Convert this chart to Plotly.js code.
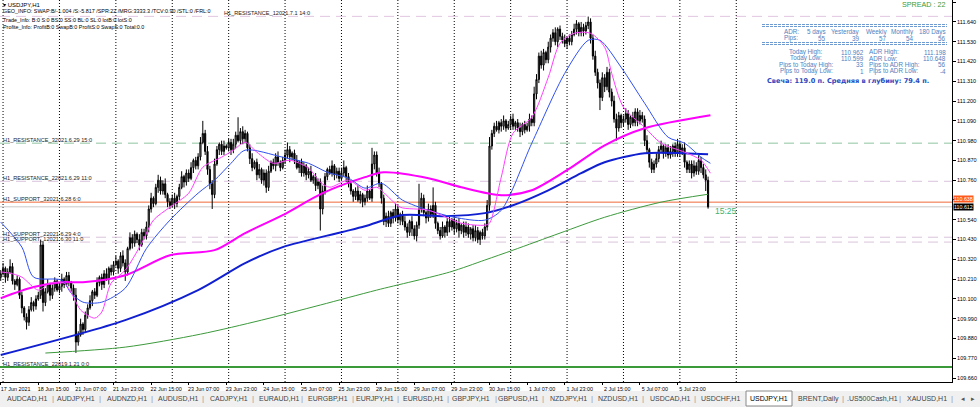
<!DOCTYPE html>
<html><head><meta charset="utf-8">
<script src="https://cdn.plot.ly/plotly-3.0.1.min.js"></script>
<style>html,body{margin:0;padding:0;background:#fff;}#chart{width:980px;height:407px;}</style>
</head><body><div id="chart"></div>
<script>
// ---------------- DATA ----------------
const symbolTitle = "USDJPY,H1";
const firstOpen = 110.22;
const closes = [
110.24,110.27,110.22,110.25,110.28,110.20,110.18,110.21,110.12,110.05,
110.00,109.97,110.04,110.08,110.06,110.10,110.12,110.40,110.08,110.14,
110.18,110.12,110.16,110.20,110.15,110.17,110.21,110.18,110.23,110.19,
110.16,110.12,109.86,109.90,109.96,109.93,110.01,110.05,110.09,110.14,
110.12,110.19,110.22,110.18,110.24,110.21,110.27,110.25,110.29,110.31,
110.27,110.34,110.30,110.25,110.38,110.44,110.41,110.46,110.43,110.40,
110.47,110.45,110.50,110.60,110.66,110.63,110.72,110.76,110.70,110.74,
110.68,110.64,110.62,110.66,110.63,110.67,110.72,110.78,110.75,110.80,
110.77,110.83,110.87,110.84,110.89,110.97,111.02,110.92,110.82,110.74,
110.68,110.85,110.93,110.96,110.92,110.95,110.94,110.97,110.93,110.96,
111.01,110.98,111.03,110.99,111.02,110.94,110.88,110.83,110.86,110.79,
110.82,110.76,110.80,110.72,110.81,110.86,110.84,110.89,110.86,110.83,
110.87,110.90,110.93,110.89,110.91,110.87,110.83,110.86,110.80,110.84,
110.79,110.81,110.76,110.78,110.73,110.75,110.60,110.70,110.78,110.82,
110.80,110.84,110.79,110.81,110.77,110.80,110.83,110.78,110.74,110.70,
110.67,110.70,110.65,110.68,110.64,110.66,110.70,110.66,110.85,110.90,
110.80,110.74,110.66,110.53,110.56,110.52,110.58,110.55,110.60,110.54,
110.57,110.53,110.50,110.47,110.53,110.49,110.45,110.51,110.60,110.66,
110.58,110.55,110.60,110.57,110.62,110.52,110.48,110.45,110.50,110.47,
110.53,110.50,110.54,110.49,110.52,110.48,110.51,110.47,110.50,110.46,
110.49,110.44,110.48,110.43,110.47,110.45,110.50,110.62,110.95,111.02,
111.06,111.04,111.08,111.06,111.09,111.05,111.07,111.10,111.06,111.08,
111.05,111.03,111.07,111.04,111.06,111.10,111.08,111.24,111.32,111.45,
111.40,111.47,111.43,111.50,111.55,111.58,111.53,111.60,111.56,111.54,
111.52,111.55,111.53,111.57,111.60,111.63,111.58,111.61,111.59,111.62,
111.64,111.55,111.45,111.36,111.30,111.22,111.33,111.28,111.36,111.25,
111.20,111.10,111.05,111.12,111.08,111.10,111.13,111.07,111.11,111.08,
111.14,111.09,111.12,111.10,110.98,110.93,110.86,110.82,110.85,110.88,
110.93,110.95,110.91,110.94,110.90,110.92,110.95,110.91,110.96,110.92,
110.94,110.86,110.82,110.85,110.80,110.84,110.81,110.87,110.83,110.79,
110.76,110.612];
// upper / lower wick lengths in pips (0.01)
const upWick = [
2,3,1,2,4,2,1,2,1,2, 1,2,2,3,1,2,2,3,2,2, 3,1,2,2,1,2,3,1,2,2, 1,2,4,2,3,1,2,2,3,1,
2,3,1,2,2,3,1,2,2,3, 1,2,3,2,1,3,2,2,1,3, 2,2,3,2,3,1,2,3,2,2, 3,1,2,2,3,1,2,3,1,2,
2,3,1,2,2,3,7,2,3,2, 2,3,2,1,2,3,1,2,2,3, 2,10,2,3,2,1,2,3,1,2, 3,1,2,2,3,1,2,2,3,1,
2,3,4,2,1,2,3,1,2,2, 1,2,3,1,2,2,2,3,2,1, 2,3,1,2,2,3,4,1,2,2, 1,2,3,2,1,2,3,1,9,2,
2,3,1,2,2,3,1,2,3,2, 1,2,3,2,1,3,2,2,14,3, 2,1,3,2,10,2,1,2,3,1, 2,3,1,2,2,3,1,2,3,2,
1,2,3,2,1,2,2,3,5,2, 2,3,1,2,3,1,2,2,3,1, 2,3,1,2,2,3,2,4,3,2, 3,2,1,3,2,2,3,1,2,2,
3,1,2,2,3,2,1,3,2,2, 3,2,2,3,2,2,3,2,3,2, 2,3,3,2,1,2,3,2,1,3, 2,2,3,2,2,3,1,2,2,3,
2,3,1,2,2,3,1,2,3,2, 2,3,1,2,2,3,2,3,2,2, 3,2];
const dnWick = [
2,1,3,2,1,2,3,1,2,3, 2,4,2,1,3,2,1,2,5,2, 1,3,2,2,1,2,3,2,1,2, 2,3,6,2,1,3,2,2,1,3,
2,1,2,3,2,1,3,2,2,1, 3,2,2,5,2,1,3,2,2,3, 1,2,2,3,2,2,1,3,2,2, 2,3,2,1,3,2,2,1,3,2,
2,1,3,2,2,2,1,2,3,3, 8,2,1,3,2,2,1,2,3,2, 2,1,2,3,2,2,3,2,1,3, 2,2,3,3,2,1,2,3,2,2,
1,2,2,3,2,2,1,3,2,2, 3,2,1,2,3,2,12,3,2,2, 1,2,3,2,2,1,2,3,2,2, 3,2,1,2,3,2,2,1,2,3,
2,2,3,2,3,2,2,3,2,2, 3,2,2,3,2,4,2,3,2,2, 2,3,2,2,2,3,2,2,1,3, 2,3,2,3,2,4,2,3,2,2,
3,2,2,2,3,2,2,2,3,2, 2,1,2,3,2,2,1,3,2,2, 2,3,2,2,1,3,2,2,3,2, 2,3,2,2,3,2,2,3,2,2,
2,3,2,2,1,3,2,2,3,2, 2,3,2,2,3,7,2,3,2,3, 3,2,7,2,3,2,2,3,2,2, 2,3,2,2,3,2,3,2,2,2,
2,2,3,2,2,2,3,2,2,3, 2,3,2,2,3,2,2,2,3,2, 6,1];

// moving averages (bar index, price)
const maFastIdx = [0,4,9,16,21,27,31,34,40,43,47,53,60,65,72,80,86,94,99,104,109,116,123,131,136,140,148,155,160,165,170,182,196,206,208,213,218,226,233,238,244,251,257,260,265,274,281,291,298,302];
const maFastVal = [110.25,110.243,110.221,110.149,110.188,110.188,110.11,110.038,109.993,110.027,110.188,110.26,110.41,110.538,110.61,110.688,110.832,110.888,110.927,110.971,110.916,110.854,110.871,110.827,110.749,110.721,110.76,110.704,110.721,110.666,110.61,110.593,110.521,110.51,110.521,110.777,111.021,111.11,111.332,111.521,111.577,111.577,111.499,111.354,111.166,111.054,110.966,110.916,110.871,110.799];
const maMidIdx = [0,9,14,26,30,35,43,53,62,72,84,91,98,104,120,131,139,148,155,162,171,182,193,206,213,226,240,250,255,264,274,284,291,298,302];
const maMidVal = [110.527,110.388,110.221,110.204,110.132,110.082,110.082,110.16,110.38,110.538,110.688,110.76,110.854,110.927,110.888,110.854,110.804,110.771,110.716,110.743,110.649,110.593,110.554,110.538,110.593,110.966,111.354,111.538,111.538,111.388,111.188,110.999,110.966,110.888,110.854];
const maSlowIdx = [0,14,26,35,53,72,91,104,120,137,155,163,182,196,213,226,241,257,274,302];
const maSlowVal = [110.104,110.166,110.193,110.193,110.232,110.343,110.371,110.466,110.566,110.688,110.777,110.804,110.771,110.721,110.677,110.704,110.816,110.954,111.049,111.121];
const maTrendIdx = [0,53,84,104,120,145,155,171,189,206,218,233,247,257,274,291,301];
const maTrendVal = [109.788,109.982,110.149,110.299,110.388,110.471,110.504,110.566,110.56,110.577,110.621,110.704,110.799,110.86,110.91,110.91,110.904];
const maLongIdx = [19,53,85,111,136,160,191,206,218,238,257,281,301];
const maLongVal = [109.799,109.832,109.904,109.982,110.066,110.149,110.249,110.316,110.371,110.466,110.554,110.638,110.682];

// x-axis ticks (bar index -> label), day starts
const xTickIdx = [0,16,32,48,64,80,96,112,128,144,160,176,192,208,224,240,256,272,288];
const xTickText = ["17 Jun 2021","18 Jun 15:00","21 Jun 07:00","21 Jun 23:00","22 Jun 15:00","23 Jun 07:00","23 Jun 23:00","24 Jun 15:00","25 Jun 07:00","25 Jun 23:00","28 Jun 15:00","29 Jun 07:00","29 Jun 23:00","30 Jun 15:00","1 Jul 07:00","1 Jul 23:00","2 Jul 15:00","5 Jul 07:00","5 Jul 23:00"];
const dayStartIdx = [1,25,49,73,97,121,145,169,193,217,241,265,289,313];
const yTicks = [109.66,109.77,109.88,109.99,110.10,110.21,110.32,110.43,110.54,110.65,110.76,110.87,110.98,111.09,111.20,111.31,111.42,111.53,111.64,111.75];

// levels
const levelNames = ["H1_RESISTANCE_12021.7.1 14:0","H1_RESISTANCE_32021.6.29 15:0","H1_RESISTANCE_22021.6.29 11:0","H1_SUPPORT_32021.6.28 6:0","H1_SUPPORT_22021.6.29 4:0","H1_SUPPORT_12021.6.30 11:0","H1_RESISTANCE_22019.1.21 0:0"];
const levelPrices = [111.671,110.966,110.754,110.638,110.443,110.416,109.721];
const bidPrice = 110.612;
const timeLeft = "15:25";

// info texts
const infoLines = ["GEO_INFO: SWAP:B/-1.004 /S:-5.817 /SPR:22 /MRG:3333.3 /TCV:0.90 /STL:0 /FRL:0","Trade_Info: B:0 S:0 BS:0 SS:0 BL:0 SL:0 lotB:0 lotS:0","Profite_Info: ProfitB:0 SwapB:0 ProfitS:0 SwapS:0 Total:0.0"];
const spreadText = "SPREAD : 22";
const adrHeaders = ["5 days","Yesterday","Weekly","Monthly","180 Days"];
const adrPips = [55,39,57,54,56];
const todayLabels = ["Today High:","Today Low:","Pips to Today High:","Pips to Today Low:"];
const todayValues = ["110.962","110.599","33","1"];
const adrLabels = ["ADR High:","ADR Low:","Pips to ADR High:","Pips to ADR Low:"];
const adrValues = ["111.198","110.648","56","-4"];
const candleText = "Свеча: 119.0 п. Средняя в глубину: 79.4 п.";
const tabNames = ["AUDCAD,H1","AUDJPY,H1","AUDNZD,H1","AUDUSD,H1","CADJPY,H1","EURAUD,H1","EURGBP,H1","EURJPY,H1","EURUSD,H1","GBPJPY,H1","GBPUSD,H1","NZDJPY,H1","NZDUSD,H1","USDCAD,H1","USDCHF,H1","USDJPY,H1","BRENT,Daily",".US500Cash,H1","XAUUSD,H1"];
const activeTab = "USDJPY,H1";

// ---------------- LAYOUT CONSTANTS ----------------
const FONT = "Liberation Sans, Arial, sans-serif";
const PW = 952, PH = 382;
const X = v => v / PW, Y = v => (PH - v) / PH;
const tabCenters = [27,76,127,178,229,279,328,375,423,471,518,568,618,670,720,769,818,872,927];
const tabSeps = [53,100,152,203,253,302,353,398,448,496,543,592,643,695,843,900,952];
const levelLabelX = [222,1,1,1,1,1,1];
const levelStyles = [
  {color:'#e3c6e3', dash:'10px,6px', width:1},
  {color:'#8fc4a0', dash:'10px,6px', width:1},
  {color:'#d9c4dc', dash:'10px,6px', width:1},
  {color:'#f26b3a', dash:'solid', width:1},
  {color:'#d9c4dc', dash:'10px,6px', width:1},
  {color:'#d9c4dc', dash:'10px,6px', width:1},
  {color:'#3a9a3a', dash:'solid', width:2}
];

// ---------------- BUILD ----------------
const idx=[], opens=[], highs=[], lows=[];
for (let i=0;i<closes.length;i++){
  const o = i===0 ? firstOpen : closes[i-1];
  const c = closes[i];
  idx.push(i); opens.push(o);
  highs.push(+(Math.max(o,c)+upWick[i]/100).toFixed(3));
  lows.push(+(Math.min(o,c)-dnWick[i]/100).toFixed(3));
}

const traces = [];
function maTrace(xs, ys, color, width){
  return {type:'scatter', mode:'lines', x:xs, y:ys, line:{color, width, shape:'spline', smoothing:0.8}, hoverinfo:'skip', showlegend:false};
}
traces.push(maTrace(maLongIdx, maLongVal, '#3c9a3c', 1));
traces.push(maTrace(maTrendIdx, maTrendVal, '#1020d0', 2));
traces.push(maTrace(maSlowIdx, maSlowVal, '#ff00ff', 2));
traces.push({type:'candlestick', x:idx, open:opens, high:highs, low:lows, close:closes,
  increasing:{line:{color:'#000', width:1}, fillcolor:'#a0a0a0'},
  decreasing:{line:{color:'#000', width:1}, fillcolor:'#000'},
  whiskerwidth:0, hoverinfo:'skip', showlegend:false});
traces.push(maTrace(maMidIdx, maMidVal, '#3050f0', 1));
traces.push(maTrace(maFastIdx, maFastVal, '#ff40ff', 1));

const shapes = [];
dayStartIdx.forEach(d => shapes.push({type:'line', xref:'x', yref:'paper', x0:d, x1:d, y0:0, y1:1, line:{color:'#000', width:1, dash:'1px,2px'}, layer:'below'}));
levelPrices.forEach((p,k) => shapes.push({type:'line', xref:'paper', yref:'y', x0:0, x1:1, y0:p, y1:p, line:levelStyles[k], layer:'below'}));
shapes.push({type:'line', xref:'paper', yref:'y', x0:0, x1:1, y0:bidPrice, y1:bidPrice, line:{color:'#c8c8c8', width:1}, layer:'below'});
// panel separators
[24.5,26.5,42.5,44.5].forEach(v => shapes.push({type:'line', xref:'paper', yref:'paper', x0:X(762), x1:X(947), y0:Y(v), y1:Y(v), line:{color:'#6f9ad0', width:1, dash:'3px,1px'}}));
// tab strip
shapes.push({type:'rect', xref:'paper', yref:'paper', x0:0, x1:980/PW, y0:Y(391), y1:Y(408), fillcolor:'#f0f0f0', line:{width:0}});
const at = tabNames.indexOf(activeTab);
shapes.push({type:'rect', xref:'paper', yref:'paper', x0:X(tabCenters[at]-23), x1:X(tabCenters[at]+23), y0:Y(391), y1:Y(406), fillcolor:'#ffffff', line:{color:'#8a8a8a', width:1}});

const ann = [];
function T(x, y, text, o){
  o = o || {};
  return {xref:'paper', yref:'paper', x:X(x), y:Y(y), text, showarrow:false,
    xanchor:o.xa||'left', yanchor:'middle',
    font:{family:o.family||FONT, size:o.size||6, color:o.color||'#000', weight:o.weight||'normal'},
    bgcolor:o.bg, borderpad:o.pad||0};
}
ann.push(T(2,5,'▾ '+symbolTitle,{size:6}));
infoLines.forEach((s,k)=>ann.push(T(2,[11.5,20,27][k],s,{size:5.4})));
levelPrices.forEach((p,k)=>ann.push({xref:'paper', yref:'y', x:X(levelLabelX[k]), y:p, yshift:3, text:levelNames[k], showarrow:false, xanchor:'left', yanchor:'middle', font:{family:FONT, size:5.6, color:'#222'}}));
ann.push(T(947,5,spreadText,{xa:'right', size:7.2, color:'#3a9a3a'}));
const blue = '#4f7fc0';
const colRight = [827,861,888,915,947];
ann.push(T(783,32,'ADR:',{color:blue, size:6.3}));
ann.push(T(783,38,'Pips:',{color:blue, size:6.3}));
adrHeaders.forEach((h,k)=>ann.push(T(colRight[k],32,h,{xa:'right', color:blue, size:6.3})));
adrPips.forEach((v,k)=>ann.push(T(colRight[k],38,String(v),{xa:'right', color:blue, size:6.3})));
const rowY = [52,58,64.5,71];
todayLabels.forEach((s,k)=>ann.push(T(806,rowY[k],s,{xa:'center', color:blue, size:6.3})));
todayValues.forEach((s,k)=>ann.push(T(865,rowY[k],s,{xa:'right', color:blue, size:6.3})));
adrLabels.forEach((s,k)=>ann.push(T(868,rowY[k],s,{color:blue, size:6.3})));
adrValues.forEach((s,k)=>ann.push(T(947,rowY[k],s,{xa:'right', color:blue, size:6.3})));
ann.push(T(848,81,candleText,{xa:'center', color:'#2a48c0', size:6.6, family:'DejaVu Sans, sans-serif', weight:'bold'}));
ann.push({xref:'x', yref:'y', x:303, y:bidPrice-0.025, text:timeLeft, showarrow:false, xanchor:'left', yanchor:'middle', font:{family:FONT, size:8.5, color:'#3cb371'}});
// price labels on axis (they cover the 110.650 tick label, as in the terminal)
ann.push({xref:'paper', yref:'y', x:1.001, y:bidPrice+0.045, text:levelPrices[3].toFixed(3), showarrow:false, xanchor:'left', yanchor:'middle', bgcolor:'#ff5a1e', font:{family:FONT, size:5.3, color:'#fff'}, borderpad:0});
ann.push({xref:'paper', yref:'y', x:1.001, y:bidPrice, text:bidPrice.toFixed(3), showarrow:false, xanchor:'left', yanchor:'middle', bgcolor:'#000', font:{family:FONT, size:5.3, color:'#fff'}, borderpad:0});
// tabs
tabNames.forEach((s,k)=>ann.push(T(tabCenters[k],399,s,{xa:'center', size:7, color:s===activeTab?'#000':'#444'})));
tabSeps.forEach(v=>ann.push(T(v,399,'|',{xa:'center', size:8, color:'#9a9a9a'})));
ann.push(T(963,399,'◂',{xa:'center', size:7, color:'#555'}));
ann.push(T(973,399,'▸',{xa:'center', size:7, color:'#555'}));

const coveredTick = 110.65;
const layout = {
  width:980, height:407, margin:{l:0, r:28, t:0, b:25, pad:0},
  paper_bgcolor:'#fff', plot_bgcolor:'#fff', showlegend:false, dragmode:false,
  xaxis:{range:[-0.3,404.8], tickmode:'array', tickvals:xTickIdx, ticktext:xTickText,
    ticks:'outside', ticklen:2, tickcolor:'#000', showline:true, linecolor:'#000', linewidth:1,
    showgrid:false, zeroline:false, tickfont:{family:FONT, size:5.4, color:'#000'},
    ticklabelshift:15, ticklabelstandoff:0, tickangle:0, rangeslider:{visible:false}, fixedrange:true},
  yaxis:{side:'right', range:[109.638,111.762], tickmode:'array', tickvals:yTicks,
    ticktext:yTicks.map(v=>Math.abs(v-coveredTick)<1e-6?'':v.toFixed(3)), ticks:'outside', ticklen:3, tickcolor:'#000',
    showline:true, linecolor:'#000', linewidth:1, showgrid:false, zeroline:false,
    tickfont:{family:FONT, size:5.5, color:'#000'}, fixedrange:true},
  shapes, annotations:ann
};
Plotly.newPlot('chart', traces, layout, {staticPlot:true, displayModeBar:false});
</script></body></html>
